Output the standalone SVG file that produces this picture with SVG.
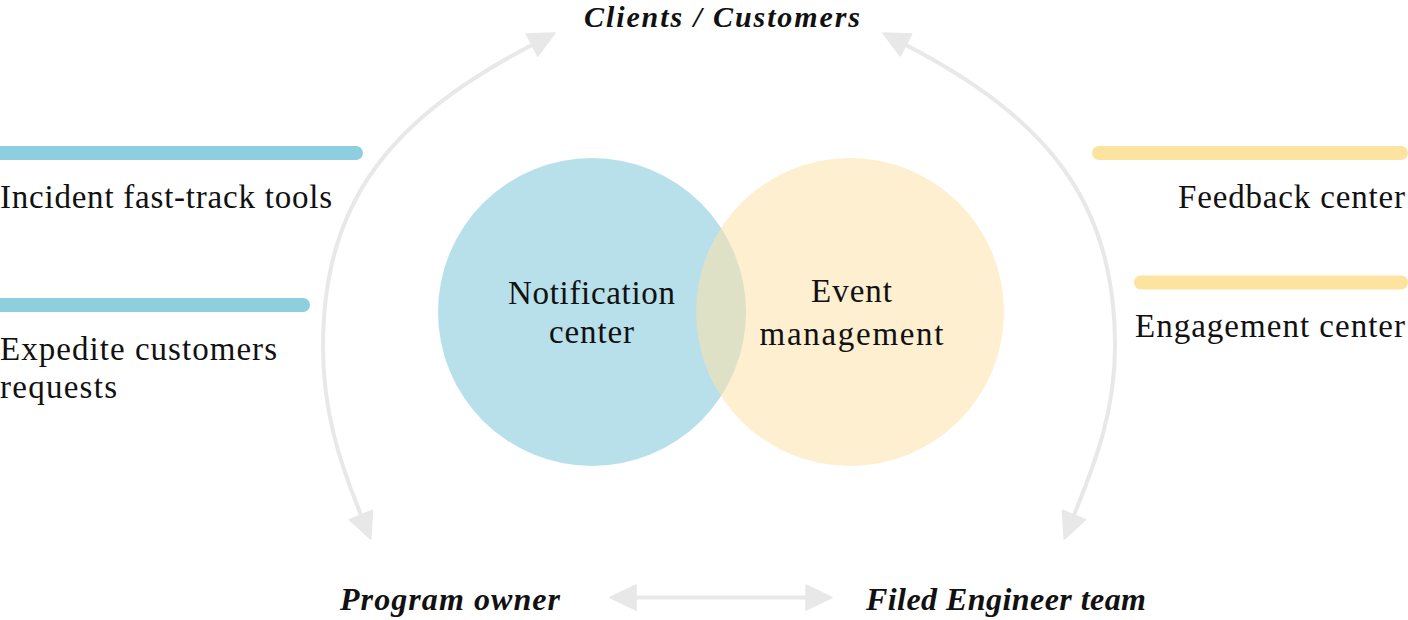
<svg xmlns="http://www.w3.org/2000/svg" width="1408" height="620" viewBox="0 0 1408 620">
  <style>
    .lbl { font-family: "Liberation Serif", "Times New Roman", serif; font-size: 33px; fill: #111; }
    .ttl { font-family: "Liberation Serif", "Times New Roman", serif; font-size: 32px; font-weight: bold; font-style: italic; fill: #111; }
    .conn { fill: none; stroke: #e8e8e8; stroke-width: 4; marker-start: url(#ah); marker-end: url(#ah); }
    .barB { fill: #8ecfdf; }
    .barY { fill: #fde3a0; }
  </style>
  <defs>
    <marker id="ah" markerUnits="userSpaceOnUse" viewBox="-2 -15 32 30" markerWidth="32" markerHeight="30" refX="0" refY="0" orient="auto-start-reverse">
      <path d="M0,-12.5 L26,0 L0,12.5 Z" fill="#e8e8e8" stroke="#e8e8e8" stroke-width="1.5" stroke-linejoin="round"/>
    </marker>
  </defs>
  <rect width="1408" height="620" fill="#ffffff"/>

  <g id="connectors">
    <path class="conn" d="M 532 45 C 392 118, 323 200, 323 347 C 323 410, 339 461, 361 515"/>
    <path class="conn" d="M 906 45 C 1046 118, 1115 200, 1115 347 C 1115 410, 1096 461, 1074 515"/>
    <path class="conn" d="M 636 597.5 L 806 597.5"/>
  </g>

  <g id="venn-notification">
    <circle cx="592" cy="312" r="154" fill="#b8e0ea"/>
  </g>
  <g id="venn-event">
    <circle cx="850" cy="312" r="154" fill="#fce2aa" fill-opacity="0.56"/>
  </g>
  <g id="venn-labels">
    <text class="lbl" x="591.5" y="304" text-anchor="middle" textLength="167">Notification</text>
    <text class="lbl" x="591.5" y="343" text-anchor="middle" textLength="85">center</text>
    <text class="lbl" x="851.5" y="302" text-anchor="middle" textLength="81">Event</text>
    <text class="lbl" x="851.5" y="345" text-anchor="middle" textLength="184">management</text>
  </g>

  <g id="clients">
    <text class="ttl" x="722" y="27" text-anchor="middle" textLength="276" style="font-size:30px">Clients / Customers</text>
  </g>
  <g id="program-owner">
    <text class="ttl" x="340" y="610" textLength="220">Program owner</text>
  </g>
  <g id="field-engineer">
    <text class="ttl" x="866" y="610" textLength="280">Filed Engineer team</text>
  </g>

  <g id="incident-tools">
    <rect class="barB" x="-8" y="146" width="371" height="14" rx="7"/>
    <text class="lbl" x="0" y="208" textLength="332">Incident fast-track tools</text>
  </g>
  <g id="expedite-requests">
    <rect class="barB" x="-8" y="298" width="318" height="14" rx="7"/>
    <text class="lbl" x="0" y="360" textLength="277">Expedite customers</text>
    <text class="lbl" x="0" y="398" textLength="117">requests</text>
  </g>
  <g id="feedback-center">
    <rect class="barY" x="1092" y="146" width="316" height="14" rx="7"/>
    <text class="lbl" x="1405" y="208" text-anchor="end" textLength="227">Feedback center</text>
  </g>
  <g id="engagement-center">
    <rect class="barY" x="1134" y="275.5" width="274" height="14" rx="7"/>
    <text class="lbl" x="1405" y="337" text-anchor="end" textLength="270">Engagement center</text>
  </g>
</svg>
